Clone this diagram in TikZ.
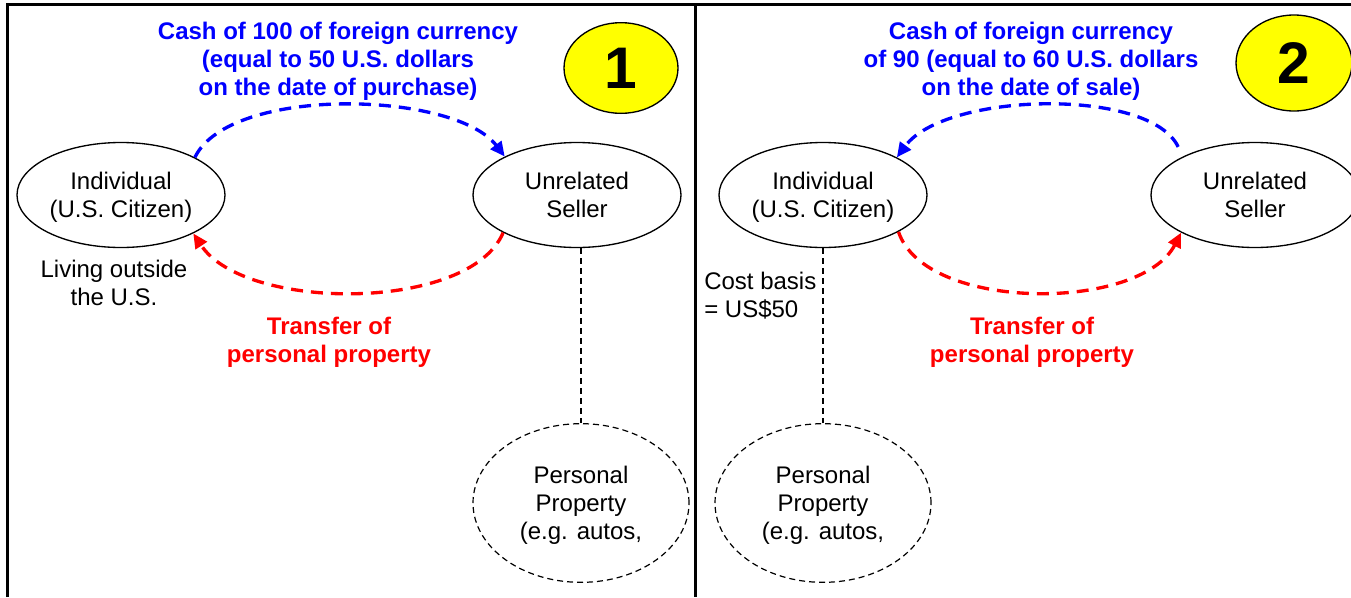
\documentclass[tikz,border=0pt]{standalone}
\usepackage{fontspec}
\setmainfont{Liberation Sans}
\usetikzlibrary{shapes.geometric,arrows.meta}
\definecolor{flowblue}{RGB}{0,0,255}
\definecolor{flowred}{RGB}{255,0,0}
\definecolor{badgefill}{RGB}{255,255,0}
\begin{document}
\begin{tikzpicture}[x=0.75pt,y=-0.75pt,
  txt/.style={font=\fontsize{18}{21}\selectfont, align=center, inner sep=0pt},
  party/.style={ellipse, draw, line width=1pt, minimum width=156pt, minimum height=78.75pt, inner sep=0pt, txt, text depth=0pt},
  asset/.style={party, dash pattern=on 4.5pt off 3pt, line width=0.9pt, minimum width=162pt, minimum height=119pt},
  badge/.style={ellipse, draw, line width=1pt, fill=badgefill, inner sep=0pt, font=\bfseries\fontsize{44}{44}\selectfont},
  cashnote/.style={txt, font=\bfseries\fontsize{18}{21}\selectfont, text=flowblue},
  goodsnote/.style={txt, font=\bfseries\fontsize{18}{21}\selectfont, text=flowred},
  flow/.style={line width=2.5pt, dash pattern=on 9pt off 6pt, -{Triangle[length=11pt,width=10pt]}},
  cashflow/.style={flow, draw=flowblue},
  goodsflow/.style={flow, draw=flowred},
  link/.style={draw, line width=0.9pt, dash pattern=on 4.5pt off 3pt},
  frame/.style={line width=2.25pt, line join=miter}]

\useasboundingbox (0,0) rectangle (1351,597);

% panel frame
\draw[frame] (7.5,597) -- (7.5,4.5) -- (1351,4.5);
\draw[frame] (695,4.5) -- (695,597);

% ---------- panel 1: purchase ----------
\node[badge, minimum width=85.5pt, minimum height=68pt] (n1) at (621,68) {1};
\node[cashnote] (cash1) at (338,61) {Cash of 100 of foreign currency\\(equal to 50 U.S. dollars\\on the date of purchase)};
\node[party] (ind1) at (121,195) {Individual\\(U.S. Citizen)};
\node[party] (sel1) at (577,195) {Unrelated\\Seller};
\node[txt] (living) at (114,283) {Living outside\\the U.S.};
\node[goodsnote] (goods1) at (329,342) {Transfer of\\personal property};
\node[asset] (pp1) at (581,503) {Personal\\Property\\(e.g. autos,};

\draw[cashflow] (ind1.27) .. controls (230,85) and (455,91) .. (sel1.152);
\draw[goodsflow] (sel1.207) .. controls (470,312) and (245,312) .. (ind1.-28);
\draw[link] (pp1.north |- sel1.south) -- (pp1.north);

% ---------- panel 2: sale ----------
\node[badge, minimum width=87pt, minimum height=72pt] (n2) at (1294,63) {2};
\node[cashnote] (cash2) at (1031,61) {Cash of foreign currency\\of 90 (equal to 60 U.S. dollars\\on the date of sale)};
\node[party] (ind2) at (823,195) {Individual\\(U.S. Citizen)};
\node[party] (sel2) at (1255,195) {Unrelated\\Seller};
\node[txt, align=left, anchor=west] (basis) at (704,296) {Cost basis\\= US\$50};
\node[goodsnote] (goods2) at (1032,342) {Transfer of\\personal property};
\node[asset] (pp2) at (823,503) {Personal\\Property\\(e.g. autos,};

\draw[cashflow, shorten <=8pt] (sel2.152) .. controls (1150,87) and (945,92) .. (ind2.27);
\draw[goodsflow] (ind2.-26) .. controls (925,312) and (1140,312) .. (sel2.207);
\draw[link] (ind2.south) -- (pp2.north);

\end{tikzpicture}
\end{document}
